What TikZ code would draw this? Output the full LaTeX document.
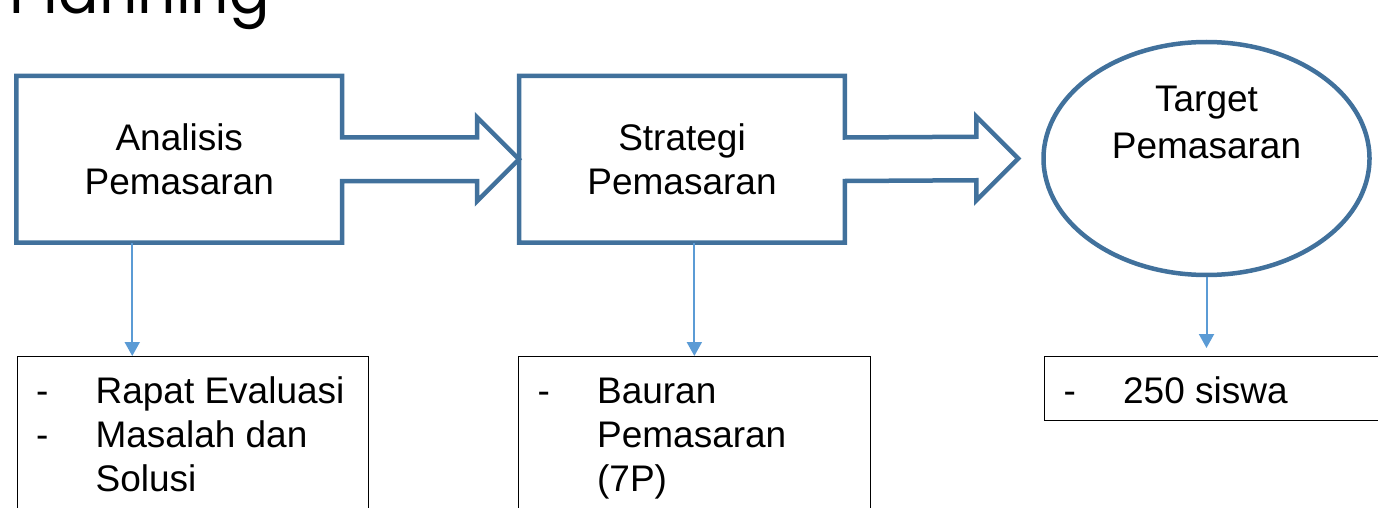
\documentclass[tikz,border=0pt]{standalone}
\usepackage{fontspec}
\setmainfont{Liberation Sans}
\newfontfamily\titlefont{Poppins}
\usetikzlibrary{calc, positioning, arrows.meta, shapes.geometric}
\definecolor{frameblue}{RGB}{65,113,156}
\definecolor{linkblue}{RGB}{91,155,213}

\begin{document}
\begin{tikzpicture}[
  x=1pt, y=-1pt,
  blockbox/.style={rectangle, inner sep=0pt,
    minimum width=325.5pt, minimum height=166.5pt,
    font=\fontsize{37}{44}\selectfont, align=center},
  outline/.style={draw=frameblue, line width=4.5pt},
  listbox/.style={rectangle, draw=black, line width=1.2pt, anchor=north west,
    minimum width=351.5pt, inner xsep=19pt, inner ysep=10pt, text height=37pt,
    font=\fontsize{37}{44}\selectfont},
  down/.style={-{Triangle[length=14pt, width=15pt]}, draw=linkblue, line width=2pt}
]
\useasboundingbox (0,0) rectangle (1378,508);
\clip (0,0) rectangle (1378,508);

\node[anchor=base west, inner sep=0pt, font=\titlefont\fontsize{60}{70}\selectfont]
  (title) at (9,14) {Planning};

\node[blockbox] (ana) at (179.25,159.25) {Analisis\\Pemasaran};
\node[blockbox] (stra) at (682,159.25) {Strategi\\Pemasaran};
\node[ellipse, draw=frameblue, line width=4.5pt, inner sep=0pt,
  minimum width=326pt, minimum height=233pt, text height=26pt, text depth=119pt,
  font=\fontsize{37}{47}\selectfont] (target) at (1206.5,158.5)
  {\begin{tabular}[t]{@{}c@{}}Target\\Pemasaran\end{tabular}};

\coordinate (tip1) at (stra.west);
\coordinate (tip2) at ([xshift=-23pt]target.west);

% box with block arrow
\draw[outline] (ana.north east)
  -- ($(ana.east)+(0,-21.75)$) -- ($(tip1)+(-42,-21.75)$) -- ($(tip1)+(-42,-42)$)
  -- (tip1) -- ($(tip1)+(-42,42)$) -- ($(tip1)+(-42,21.75)$)
  -- ($(ana.east)+(0,21.75)$) -- (ana.south east) -- (ana.south west)
  -- (ana.north west) -- cycle;
\draw[outline] (stra.north east)
  -- ($(stra.east)+(0,-21.75)$) -- ($(tip2)+(-42,-21.75)$) -- ($(tip2)+(-42,-42)$)
  -- (tip2) -- ($(tip2)+(-42,42)$) -- ($(tip2)+(-42,21.75)$)
  -- ($(stra.east)+(0,21.75)$) -- (stra.south east) -- (stra.south west)
  -- (stra.north west) -- cycle;

\node[listbox, text depth=120pt] (listA) at (16.5,356)
  {\begin{tabular}[t]{@{}p{59.5pt}@{}p{254pt}@{}}-&Rapat Evaluasi\\-&Masalah dan\\&Solusi\end{tabular}};
\node[listbox, text depth=120pt] (listB) at (518,356)
  {\begin{tabular}[t]{@{}p{59.5pt}@{}p{254pt}@{}}-&Bauran\\&Pemasaran\\&(7P)\end{tabular}};
\node[listbox, text depth=7pt] (listC) at (1044,356)
  {\begin{tabular}[t]{@{}p{59.5pt}@{}p{254pt}@{}}-&250 siswa\end{tabular}};

\draw[down] ([xshift=-47pt]ana.south) -- ([xshift=-47pt]ana.south |- listA.north);
\draw[down] (stra.south -| listB.north) -- (listB.north);
\draw[down, shorten >=8pt] (target.south) -- (target.south |- listC.north);
\end{tikzpicture}
\end{document}
